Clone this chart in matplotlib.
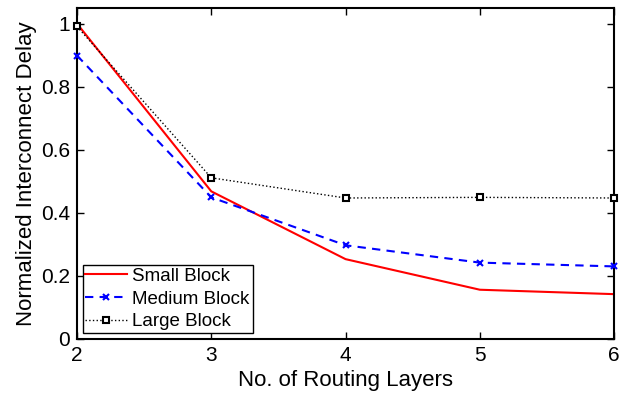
import matplotlib
matplotlib.use("Agg")
import matplotlib.pyplot as plt

layers = [2, 3, 4, 5, 6]
small_block = [1.0, 0.468, 0.253, 0.156, 0.142]
medium_block = [0.899, 0.449, 0.297, 0.242, 0.23]
large_block = [0.991, 0.511, 0.447, 0.449, 0.447]

plt.rcParams["font.family"] = ["Liberation Sans", "DejaVu Sans"]

fig = plt.figure(figsize=(6.21, 3.95), dpi=100)
ax = fig.add_axes([0.124, 0.142, 0.865, 0.838])

ax.plot(layers, small_block, color="red", linewidth=1.5, label="Small Block")
ax.plot(layers, medium_block, color="blue", linestyle=(0, (4, 3)), linewidth=1.5,
        marker="x", markersize=4, markeredgewidth=1.5, label="Medium Block",
        clip_on=False, zorder=3)
ax.plot(layers, large_block, color="black", linestyle=":", linewidth=1,
        marker="s", markersize=5, markerfacecolor="white", markeredgewidth=1.5,
        label="Large Block", clip_on=False, zorder=4)

ax.set_xlim(2, 6)
ax.set_ylim(0, 1.05)
ax.set_xticks(layers)
ax.set_yticks([0, 0.2, 0.4, 0.6, 0.8, 1.0])
ax.set_yticklabels(["0", "0.2", "0.4", "0.6", "0.8", "1"])
ax.tick_params(direction="in", top=True, right=True, labelsize=15, length=5, width=1, pad=5)
for s in ax.spines.values():
    s.set_linewidth(1.5)

ax.set_xlabel("No. of Routing Layers", fontsize=16, labelpad=4)
ax.set_ylabel("Normalized Interconnect Delay", fontsize=16, labelpad=3)

leg = ax.legend(loc="lower left", fontsize=13.5, fancybox=False, framealpha=1,
                edgecolor="black", borderpad=0.15, labelspacing=0.3,
                handlelength=2.2, handletextpad=0.3, borderaxespad=0.3)
leg.get_frame().set_linewidth(1)
leg.set_zorder(5)

fig.savefig("out.png", dpi=100)
